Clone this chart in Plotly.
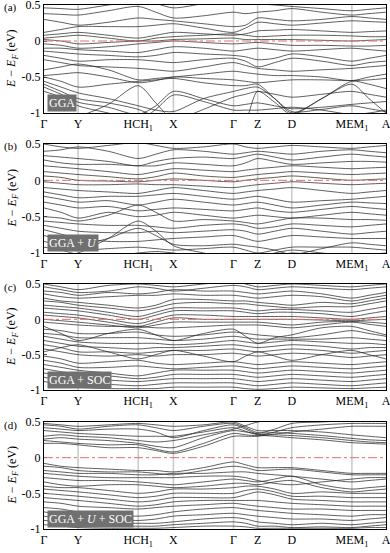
import plotly.graph_objects as go

# high-symmetry path (positions along k-path, arbitrary units) and labels
K_POS = [0, 34, 94, 129, 189, 213, 247, 307, 341]
K_LABELS = ["Γ", "Y", "HCH<sub>1</sub>", "X", "Γ", "Z", "D", "MEM<sub>1</sub>", "A"]
# sampling nodes (high-symmetry points and segment midpoints)
K_NODES = [0, 17, 34, 64, 94, 111.5, 129, 159, 189, 201, 213, 230, 247, 277, 307, 324, 341]

Y_TICKS = [-1, -0.5, 0, 0.5]
Y_TICK_TEXT = ["-1", "-0.5", "0", "0.5"]

PANEL_TAGS = ["(a)", "(b)", "(c)", "(d)"]
PANEL_NAMES = ["GGA", "GGA + <i>U</i>", "GGA + SOC", "GGA + <i>U</i> + SOC"]

BANDS_GGA = [
    [0.46, 0.45, 0.44, 0.50, 0.56, 0.52, 0.46, 0.52, 0.58, 0.55, 0.52, 0.50, 0.48, 0.45, 0.42, 0.44, 0.46],
    [0.38, 0.37, 0.36, 0.42, 0.48, 0.40, 0.32, 0.35, 0.40, 0.38, 0.40, 0.42, 0.45, 0.40, 0.36, 0.38, 0.40],
    [0.30, 0.26, 0.22, 0.26, 0.32, 0.30, 0.28, 0.24, 0.20, 0.22, 0.32, 0.30, 0.28, 0.30, 0.34, 0.32, 0.30],
    [0.12, 0.16, 0.20, 0.20, 0.20, 0.22, 0.24, 0.18, 0.12, 0.18, 0.26, 0.24, 0.22, 0.25, 0.28, 0.27, 0.26],
    [0.08, 0.10, 0.12, 0.08, 0.04, 0.08, 0.12, 0.10, 0.08, 0.10, 0.14, 0.15, 0.16, 0.14, 0.12, 0.13, 0.14],
    [0.04, 0.06, 0.08, 0.04, 0.00, 0.04, 0.06, 0.08, 0.10, 0.08, 0.06, 0.07, 0.08, 0.08, 0.07, 0.06, 0.06],
    [0.02, 0.00, -0.04, -0.02, 0.00, 0.00, 0.02, 0.03, 0.04, 0.02, 0.02, 0.02, 0.02, 0.01, 0.00, 0.01, 0.02],
    [-0.04, -0.06, -0.10, -0.08, -0.04, -0.02, 0.00, -0.02, -0.04, -0.03, -0.02, -0.04, -0.06, -0.06, -0.07, -0.07, -0.06],
    [-0.10, -0.10, -0.12, -0.14, -0.16, -0.12, -0.08, -0.10, -0.14, -0.12, -0.10, -0.12, -0.14, -0.12, -0.10, -0.12, -0.14],
    [-0.14, -0.16, -0.18, -0.20, -0.22, -0.20, -0.16, -0.18, -0.20, -0.22, -0.26, -0.24, -0.18, -0.22, -0.28, -0.24, -0.20],
    [-0.20, -0.24, -0.28, -0.26, -0.26, -0.28, -0.30, -0.26, -0.24, -0.28, -0.36, -0.30, -0.24, -0.28, -0.34, -0.30, -0.28],
    [-0.26, -0.30, -0.34, -0.36, -0.38, -0.40, -0.42, -0.36, -0.30, -0.34, -0.38, -0.40, -0.42, -0.40, -0.38, -0.36, -0.34],
    [-0.40, -0.36, -0.32, -0.40, -0.54, -0.52, -0.50, -0.46, -0.42, -0.44, -0.46, -0.48, -0.48, -0.50, -0.55, -0.50, -0.46],
    [-0.48, -0.46, -0.44, -0.50, -0.58, -0.55, -0.50, -0.52, -0.54, -0.56, -0.58, -0.56, -0.54, -0.54, -0.55, -0.54, -0.52],
    [-0.50, -0.56, -0.64, -0.60, -0.56, -0.54, -0.52, -0.58, -0.62, -0.62, -0.60, -0.80, -1.00, -0.80, -0.56, -0.60, -0.66],
    [-1.20, -1.10, -1.05, -0.88, -0.62, -0.86, -1.10, -1.15, -1.20, -1.10, -0.70, -0.85, -1.02, -0.80, -0.60, -0.80, -1.00],
    [-0.56, -0.64, -0.72, -0.80, -0.90, -0.96, -0.98, -0.80, -0.70, -0.66, -0.64, -0.80, -0.98, -0.95, -0.90, -0.94, -0.98],
    [-0.60, -0.70, -0.80, -0.86, -0.95, -1.05, -1.10, -0.95, -0.78, -0.74, -0.70, -0.74, -0.78, -0.74, -0.70, -0.74, -0.78],
    [-0.64, -0.74, -0.85, -0.92, -1.02, -0.90, -0.70, -0.80, -0.90, -0.88, -0.86, -0.90, -0.94, -0.92, -0.88, -0.86, -0.84],
    [-0.70, -0.78, -0.90, -1.00, -1.10, -0.95, -0.75, -0.84, -0.96, -0.96, -0.96, -0.94, -0.92, -0.96, -1.02, -1.00, -0.96],
]

BANDS_GGA_U = [
    [0.50, 0.46, 0.44, 0.48, 0.52, 0.48, 0.44, 0.46, 0.50, 0.46, 0.44, 0.46, 0.48, 0.46, 0.44, 0.46, 0.48],
    [0.40, 0.42, 0.46, 0.40, 0.30, 0.36, 0.42, 0.40, 0.36, 0.38, 0.40, 0.38, 0.36, 0.40, 0.42, 0.40, 0.38],
    [0.34, 0.32, 0.30, 0.26, 0.20, 0.26, 0.30, 0.32, 0.30, 0.33, 0.36, 0.32, 0.28, 0.32, 0.36, 0.34, 0.32],
    [0.28, 0.24, 0.22, 0.22, 0.20, 0.20, 0.24, 0.22, 0.20, 0.24, 0.30, 0.26, 0.22, 0.24, 0.26, 0.26, 0.25],
    [0.20, 0.18, 0.16, 0.12, 0.08, 0.12, 0.16, 0.14, 0.12, 0.14, 0.16, 0.18, 0.20, 0.18, 0.16, 0.17, 0.18],
    [0.12, 0.10, 0.08, 0.05, 0.02, 0.05, 0.10, 0.06, 0.04, 0.06, 0.08, 0.10, 0.12, 0.10, 0.08, 0.09, 0.10],
    [0.06, 0.04, 0.00, -0.01, -0.02, 0.00, 0.02, 0.00, -0.02, 0.00, 0.02, 0.04, 0.06, 0.03, 0.00, 0.01, 0.02],
    [-0.02, -0.04, -0.06, -0.06, -0.05, -0.06, -0.06, -0.08, -0.10, -0.08, -0.06, -0.04, -0.02, -0.04, -0.06, -0.05, -0.04],
    [-0.10, -0.12, -0.14, -0.16, -0.18, -0.14, -0.10, -0.14, -0.18, -0.16, -0.14, -0.12, -0.10, -0.14, -0.18, -0.16, -0.14],
    [-0.16, -0.20, -0.24, -0.22, -0.22, -0.20, -0.18, -0.22, -0.26, -0.24, -0.22, -0.26, -0.30, -0.28, -0.26, -0.24, -0.22],
    [-0.22, -0.26, -0.30, -0.28, -0.34, -0.30, -0.26, -0.30, -0.34, -0.32, -0.30, -0.34, -0.38, -0.34, -0.30, -0.31, -0.32],
    [-0.30, -0.34, -0.38, -0.36, -0.42, -0.40, -0.38, -0.40, -0.42, -0.40, -0.38, -0.42, -0.44, -0.40, -0.36, -0.38, -0.40],
    [-0.38, -0.44, -0.52, -0.44, -0.50, -0.48, -0.44, -0.48, -0.52, -0.50, -0.48, -0.50, -0.52, -0.48, -0.44, -0.46, -0.48],
    [-0.50, -0.52, -0.56, -0.48, -0.34, -0.44, -0.56, -0.54, -0.56, -0.58, -0.60, -0.56, -0.52, -0.52, -0.54, -0.54, -0.55],
    [-0.56, -0.58, -0.60, -0.62, -0.62, -0.64, -0.66, -0.62, -0.60, -0.62, -0.66, -0.64, -0.60, -0.62, -0.64, -0.62, -0.60],
    [-0.62, -0.66, -0.70, -0.72, -0.72, -0.70, -0.72, -0.70, -0.68, -0.70, -0.74, -0.70, -0.66, -0.70, -0.74, -0.72, -0.70],
    [-0.68, -0.74, -0.80, -0.84, -0.84, -0.82, -0.80, -0.78, -0.76, -0.80, -0.84, -0.80, -0.76, -0.78, -0.80, -0.80, -0.80],
    [-0.76, -0.82, -0.88, -0.80, -0.66, -0.76, -0.88, -0.90, -0.88, -0.90, -0.92, -0.96, -1.02, -0.94, -0.86, -0.88, -0.90],
    [-0.84, -0.90, -0.96, -0.94, -0.92, -0.94, -0.96, -0.94, -0.92, -0.96, -1.00, -0.96, -0.92, -0.92, -0.92, -0.94, -0.96],
    [-0.92, -0.96, -1.02, -1.05, -1.00, -0.98, -1.00, -1.06, -1.02, -1.04, -1.06, -1.00, -0.96, -1.00, -1.04, -1.02, -1.00],
    [-1.10, -1.05, -1.00, -0.80, -0.56, -0.70, -0.90, -1.00, -1.10, -1.10, -1.10, -1.05, -1.00, -1.05, -1.10, -1.10, -1.10],
]

BANDS_GGA_SOC = [
    [0.50, 0.46, 0.42, 0.48, 0.50, 0.48, 0.46, 0.50, 0.54, 0.50, 0.46, 0.48, 0.50, 0.48, 0.46, 0.48, 0.50],
    [0.46, 0.42, 0.38, 0.40, 0.46, 0.44, 0.40, 0.44, 0.48, 0.46, 0.42, 0.44, 0.46, 0.44, 0.42, 0.44, 0.46],
    [0.40, 0.38, 0.34, 0.38, 0.36, 0.38, 0.42, 0.40, 0.40, 0.38, 0.36, 0.38, 0.40, 0.36, 0.30, 0.34, 0.38],
    [0.36, 0.32, 0.30, 0.32, 0.34, 0.34, 0.36, 0.34, 0.34, 0.32, 0.30, 0.32, 0.34, 0.32, 0.26, 0.30, 0.34],
    [0.30, 0.26, 0.24, 0.20, 0.16, 0.20, 0.28, 0.28, 0.26, 0.26, 0.24, 0.22, 0.20, 0.24, 0.22, 0.26, 0.30],
    [0.26, 0.24, 0.20, 0.16, 0.12, 0.16, 0.22, 0.24, 0.22, 0.22, 0.20, 0.18, 0.16, 0.18, 0.18, 0.22, 0.26],
    [0.20, 0.18, 0.16, 0.10, 0.04, 0.10, 0.16, 0.16, 0.16, 0.14, 0.12, 0.14, 0.14, 0.12, 0.10, 0.14, 0.18],
    [0.16, 0.14, 0.12, 0.06, 0.00, 0.06, 0.12, 0.12, 0.12, 0.10, 0.08, 0.10, 0.10, 0.08, 0.04, 0.08, 0.12],
    [0.10, 0.08, 0.06, 0.00, -0.06, 0.00, 0.06, 0.06, 0.04, 0.04, 0.04, 0.04, 0.04, 0.02, 0.00, 0.02, 0.04],
    [0.06, 0.04, 0.02, -0.04, -0.10, -0.04, 0.02, 0.00, 0.00, 0.00, 0.00, 0.00, 0.00, -0.01, -0.02, -0.01, 0.00],
    [0.00, -0.02, -0.04, -0.08, -0.12, -0.08, -0.04, -0.04, -0.04, -0.04, -0.04, -0.06, -0.08, -0.04, -0.03, -0.04, -0.06],
    [-0.04, -0.06, -0.08, -0.10, -0.10, -0.12, -0.12, -0.10, -0.08, -0.08, -0.08, -0.10, -0.12, -0.08, -0.04, -0.07, -0.10],
    [-0.10, -0.20, -0.30, -0.20, -0.14, -0.22, -0.30, -0.20, -0.14, -0.24, -0.34, -0.26, -0.22, -0.12, -0.10, -0.16, -0.22],
    [-0.14, -0.16, -0.20, -0.20, -0.18, -0.22, -0.24, -0.22, -0.18, -0.20, -0.22, -0.24, -0.26, -0.22, -0.16, -0.20, -0.24],
    [-0.20, -0.22, -0.26, -0.26, -0.26, -0.28, -0.30, -0.28, -0.24, -0.26, -0.28, -0.28, -0.28, -0.28, -0.26, -0.28, -0.30],
    [-0.24, -0.28, -0.32, -0.34, -0.34, -0.34, -0.36, -0.34, -0.30, -0.32, -0.34, -0.32, -0.30, -0.32, -0.34, -0.34, -0.36],
    [-0.30, -0.34, -0.38, -0.40, -0.42, -0.40, -0.40, -0.38, -0.36, -0.38, -0.40, -0.38, -0.36, -0.38, -0.42, -0.40, -0.40],
    [-0.36, -0.40, -0.46, -0.46, -0.48, -0.46, -0.44, -0.44, -0.42, -0.44, -0.46, -0.44, -0.42, -0.44, -0.48, -0.46, -0.44],
    [-0.42, -0.46, -0.50, -0.52, -0.50, -0.52, -0.50, -0.50, -0.48, -0.50, -0.52, -0.50, -0.48, -0.50, -0.54, -0.52, -0.50],
    [-0.46, -0.40, -0.36, -0.46, -0.56, -0.50, -0.44, -0.52, -0.60, -0.52, -0.46, -0.52, -0.58, -0.50, -0.44, -0.50, -0.56],
    [-0.52, -0.56, -0.62, -0.60, -0.58, -0.62, -0.64, -0.62, -0.60, -0.62, -0.64, -0.62, -0.60, -0.62, -0.64, -0.62, -0.60],
    [-0.58, -0.62, -0.68, -0.68, -0.66, -0.68, -0.70, -0.68, -0.66, -0.68, -0.70, -0.68, -0.66, -0.68, -0.70, -0.68, -0.66],
    [-0.64, -0.68, -0.72, -0.76, -0.80, -0.76, -0.72, -0.72, -0.72, -0.74, -0.76, -0.74, -0.72, -0.74, -0.76, -0.74, -0.72],
    [-0.70, -0.74, -0.78, -0.80, -0.84, -0.82, -0.78, -0.78, -0.78, -0.80, -0.82, -0.80, -0.78, -0.80, -0.82, -0.80, -0.78],
    [-0.76, -0.80, -0.84, -0.86, -0.88, -0.86, -0.84, -0.84, -0.84, -0.86, -0.88, -0.86, -0.84, -0.86, -0.88, -0.86, -0.84],
    [-0.82, -0.86, -0.90, -0.92, -0.94, -0.92, -0.90, -0.90, -0.90, -0.92, -0.94, -0.92, -0.90, -0.92, -0.94, -0.92, -0.90],
    [-0.88, -0.92, -0.96, -0.98, -0.98, -0.98, -0.96, -0.96, -0.96, -0.98, -0.99, -0.98, -0.96, -0.97, -0.98, -0.97, -0.96],
]

BANDS_GGA_U_SOC = [
    [0.48, 0.46, 0.44, 0.46, 0.48, 0.46, 0.44, 0.46, 0.50, 0.44, 0.38, 0.38, 0.38, 0.36, 0.32, 0.30, 0.28],
    [0.46, 0.44, 0.40, 0.44, 0.46, 0.42, 0.38, 0.44, 0.48, 0.42, 0.35, 0.35, 0.34, 0.31, 0.27, 0.25, 0.24],
    [0.42, 0.40, 0.38, 0.40, 0.40, 0.36, 0.28, 0.38, 0.46, 0.40, 0.33, 0.32, 0.31, 0.28, 0.24, 0.22, 0.21],
    [0.38, 0.36, 0.34, 0.32, 0.30, 0.30, 0.30, 0.36, 0.42, 0.37, 0.32, 0.30, 0.28, 0.25, 0.21, 0.20, 0.19],
    [0.30, 0.32, 0.30, 0.28, 0.24, 0.22, 0.24, 0.32, 0.40, 0.45, 0.50, 0.53, 0.56, 0.58, 0.60, 0.60, 0.60],
    [0.26, 0.28, 0.26, 0.24, 0.20, 0.16, 0.14, 0.28, 0.38, 0.36, 0.34, 0.40, 0.48, 0.50, 0.52, 0.52, 0.52],
    [0.24, 0.22, 0.20, 0.18, 0.18, 0.12, 0.08, 0.20, 0.34, 0.32, 0.31, 0.36, 0.42, 0.46, 0.48, 0.48, 0.48],
    [0.20, 0.20, 0.18, 0.14, 0.14, 0.10, 0.06, 0.16, 0.30, 0.30, 0.30, 0.33, 0.36, 0.40, 0.44, 0.44, 0.44],
    [-0.08, -0.12, -0.14, -0.16, -0.18, -0.18, -0.20, -0.14, -0.06, -0.10, -0.14, -0.14, -0.14, -0.18, -0.22, -0.22, -0.22],
    [-0.12, -0.14, -0.18, -0.20, -0.20, -0.22, -0.24, -0.18, -0.12, -0.14, -0.18, -0.17, -0.16, -0.20, -0.24, -0.24, -0.24],
    [-0.18, -0.20, -0.22, -0.22, -0.24, -0.24, -0.22, -0.22, -0.20, -0.20, -0.22, -0.24, -0.26, -0.30, -0.34, -0.32, -0.30],
    [-0.22, -0.24, -0.26, -0.28, -0.28, -0.28, -0.28, -0.26, -0.26, -0.28, -0.32, -0.36, -0.38, -0.34, -0.30, -0.28, -0.28],
    [-0.28, -0.30, -0.32, -0.32, -0.34, -0.36, -0.38, -0.34, -0.30, -0.32, -0.34, -0.30, -0.26, -0.38, -0.44, -0.42, -0.40],
    [-0.34, -0.38, -0.40, -0.38, -0.38, -0.40, -0.42, -0.40, -0.36, -0.36, -0.38, -0.34, -0.32, -0.42, -0.48, -0.46, -0.44],
    [-0.40, -0.42, -0.42, -0.46, -0.50, -0.48, -0.44, -0.44, -0.42, -0.40, -0.40, -0.44, -0.50, -0.48, -0.50, -0.50, -0.50],
    [-0.44, -0.46, -0.48, -0.52, -0.56, -0.54, -0.50, -0.50, -0.50, -0.46, -0.44, -0.48, -0.54, -0.54, -0.56, -0.56, -0.56],
    [-0.50, -0.52, -0.54, -0.58, -0.62, -0.60, -0.56, -0.56, -0.56, -0.52, -0.48, -0.52, -0.58, -0.60, -0.62, -0.62, -0.62],
    [-0.56, -0.58, -0.60, -0.64, -0.68, -0.66, -0.62, -0.60, -0.60, -0.60, -0.60, -0.62, -0.64, -0.66, -0.68, -0.68, -0.68],
    [-0.62, -0.64, -0.68, -0.70, -0.72, -0.70, -0.68, -0.66, -0.64, -0.66, -0.68, -0.70, -0.72, -0.72, -0.74, -0.74, -0.74],
    [-0.70, -0.72, -0.76, -0.80, -0.82, -0.80, -0.76, -0.72, -0.70, -0.72, -0.74, -0.76, -0.78, -0.80, -0.82, -0.80, -0.80],
    [-0.76, -0.80, -0.84, -0.86, -0.88, -0.86, -0.82, -0.80, -0.78, -0.80, -0.82, -0.84, -0.86, -0.86, -0.88, -0.86, -0.84],
    [-0.82, -0.86, -0.90, -0.92, -0.92, -0.92, -0.90, -0.86, -0.84, -0.86, -0.90, -0.92, -0.94, -0.92, -0.94, -0.92, -0.90],
    [-0.88, -0.90, -0.94, -0.96, -0.96, -0.96, -0.94, -0.92, -0.90, -0.92, -0.96, -0.96, -0.98, -0.97, -0.98, -0.96, -0.94],
    [-0.94, -0.96, -0.98, -0.99, -0.99, -0.99, -0.98, -0.96, -0.96, -0.97, -0.99, -0.99, -0.99, -0.99, -0.99, -0.98, -0.98],
]

ALL_BANDS = [BANDS_GGA, BANDS_GGA_U, BANDS_GGA_SOC, BANDS_GGA_U_SOC]

# ---------------- layout geometry (pixels) ----------------
W, H = 390, 553
PANEL_TOP = [5, 144, 284, 422]
PANEL_BOT = [113, 253, 390, 529]
X_LEFT, X_RIGHT = 44, 386
SERIF = "Liberation Serif"

fig = go.Figure()
shapes = []
annotations = []

for i, bands in enumerate(ALL_BANDS):
    n = i + 1
    xa = "x" if n == 1 else f"x{n}"
    ya = "y" if n == 1 else f"y{n}"
    for b in bands:
        fig.add_trace(go.Scatter(
            x=K_NODES, y=b, xaxis=xa, yaxis=ya, mode="lines",
            line=dict(color="#2a2a2a", width=0.75, shape="spline", smoothing=0.8),
            hoverinfo="skip", showlegend=False))
    d0 = 1 - PANEL_BOT[i] / H
    d1 = 1 - PANEL_TOP[i] / H
    xkey = "xaxis" if n == 1 else f"xaxis{n}"
    ykey = "yaxis" if n == 1 else f"yaxis{n}"
    fig.update_layout({
        xkey: dict(domain=[X_LEFT / W, X_RIGHT / W], range=[K_POS[0], K_POS[-1]],
                   tickvals=K_POS, ticktext=K_LABELS, showgrid=False, zeroline=False,
                   showline=True, mirror=True, linecolor="black", linewidth=1,
                   ticks="", tickfont=dict(family=SERIF, size=12, color="black"),
                   ticklabeloverflow="allow", automargin=False, anchor=ya),
        ykey: dict(domain=[d0, d1], range=[-1, 0.5], tickvals=Y_TICKS, ticktext=Y_TICK_TEXT,
                   showgrid=False, zeroline=False, showline=True, mirror=True,
                   linecolor="black", linewidth=1, ticks="inside", ticklen=3,
                   tickfont=dict(family=SERIF, size=12, color="black"),
                   ticklabeloverflow="allow", automargin=False, anchor=xa),
    })
    xref = "x" if n == 1 else f"x{n}"
    yref = "y" if n == 1 else f"y{n}"
    # vertical lines at high-symmetry points
    for kp in K_POS[1:-1]:
        shapes.append(dict(type="line", xref=xref, yref=f"{yref} domain", x0=kp, x1=kp, y0=0, y1=1,
                           line=dict(color="#c8c8c8", width=1.5), layer="below"))
    # Fermi level
    shapes.append(dict(type="line", xref=f"{xref} domain", yref=yref, x0=0, x1=1, y0=0, y1=0,
                       line=dict(color="#e07070", width=1, dash="dashdot"), layer="above"))
    # method label box
    annotations.append(dict(xref=f"{xref} domain", yref=f"{yref} domain", x=0.01, y=0.01,
                            xanchor="left", yanchor="bottom", text=PANEL_NAMES[i], showarrow=False,
                            font=dict(family=SERIF, size=12, color="white"), bgcolor="#707070",
                            borderpad=1))
    # panel tag
    annotations.append(dict(xref="paper", yref="paper", x=2 / W, y=d1 - 3 / H, xanchor="left",
                            yanchor="middle", text=PANEL_TAGS[i], showarrow=False,
                            font=dict(family=SERIF, size=11, color="black")))
    # y title
    annotations.append(dict(xref="paper", yref="paper", x=12 / W, y=(d0 + d1) / 2,
                            xanchor="center", yanchor="middle", textangle=-90,
                            text="<i>E</i> − <i>E</i><sub><i>F</i></sub> (eV)", showarrow=False,
                            font=dict(family=SERIF, size=12, color="black")))

fig.update_layout(width=W, height=H, margin=dict(l=0, r=0, t=0, b=0),
                  paper_bgcolor="white", plot_bgcolor="white",
                  shapes=shapes, annotations=annotations, showlegend=False)

fig.write_html("out.html", config={"displayModeBar": False, "staticPlot": True},
               post_script="document.body.style.margin='0';")
